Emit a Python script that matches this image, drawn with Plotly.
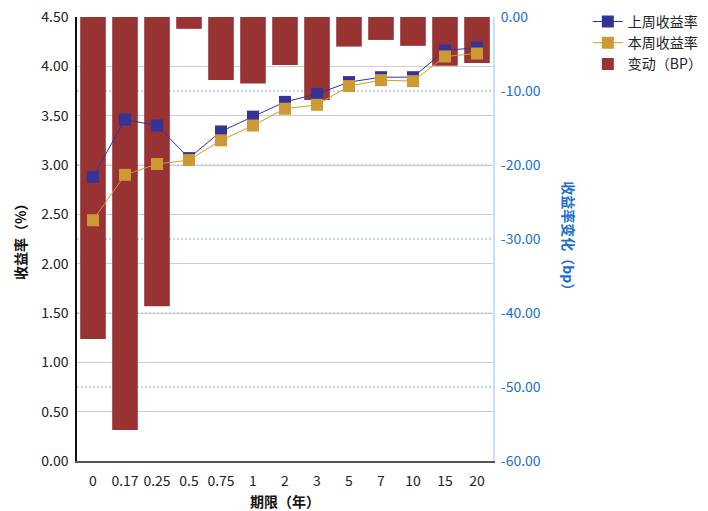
import plotly.graph_objects as go

categories = ["0", "0.17", "0.25", "0.5", "0.75", "1", "2", "3", "5", "7", "10", "15", "20"]
last_week = [2.88, 3.46, 3.40, 3.07, 3.34, 3.49, 3.64, 3.72, 3.84, 3.89, 3.89, 4.16, 4.19]
this_week = [2.44, 2.90, 3.01, 3.05, 3.25, 3.40, 3.57, 3.61, 3.80, 3.86, 3.85, 4.10, 4.13]
change_bp = [-43.5, -55.8, -39.1, -1.6, -8.5, -9.0, -6.5, -11.2, -4.0, -3.1, -3.9, -6.6, -6.2]

left_ticks = [0, 0.5, 1, 1.5, 2, 2.5, 3, 3.5, 4, 4.5]
right_ticks = [0, -10, -20, -30, -40, -50, -60]

FONT = "Noto Sans CJK SC"
BLUE_AX = "#1a6fd1"

fig = go.Figure()
fig.add_trace(go.Scatter(
    x=categories, y=last_week, yaxis="y2", name="上周收益率", mode="lines+markers",
    line=dict(color="#333399", width=1),
    marker=dict(symbol="square", size=12, color="#333399"),
))
fig.add_trace(go.Scatter(
    x=categories, y=this_week, yaxis="y2", name="本周收益率", mode="lines+markers",
    line=dict(color="#cc9933", width=1),
    marker=dict(symbol="square", size=12, color="#cc9933"),
))
fig.add_trace(go.Bar(
    x=categories, y=change_bp, yaxis="y", name="变动（BP）",
    marker=dict(color="#993333", line=dict(width=0)),
    width=0.8,
))

fig.update_layout(
    width=700, height=503,
    margin=dict(l=69, r=215, t=9, b=50, autoexpand=False),
    plot_bgcolor="white", paper_bgcolor="white",
    font=dict(family=FONT, size=14, color="#222"),
    showlegend=True,
    legend=dict(x=1.228, y=1.025, xanchor="left", yanchor="top",
                font=dict(size=14, color="#222"), tracegroupgap=0,
                traceorder="normal", itemwidth=30),
    xaxis=dict(
        type="category", categoryorder="array", categoryarray=categories,
        range=[-0.5, len(categories) - 0.5],
        showgrid=False, showline=True, linecolor="#555", linewidth=2,
        ticks="", tickangle=0, tickfont=dict(size=14, color="#222"),
        ticklabelstandoff=6, automargin=False,
    ),
    yaxis=dict(
        range=[-60, 0], tickvals=right_ticks,
        ticktext=["%.2f" % v for v in right_ticks],
        side="right",
        showgrid=True, gridcolor="#bcdaf7", griddash="2px,2px", gridwidth=1.5,
        showline=True, linecolor="#c6e0f8", linewidth=2,
        zeroline=False, ticks="", tickfont=dict(size=14, color=BLUE_AX),
        ticklabeloverflow="allow", ticklabelstandoff=3,
        automargin=False,
    ),
    yaxis2=dict(
        range=[0, 4.5], tickvals=left_ticks, tickformat=".2f",
        overlaying="y", side="left",
        showgrid=True, gridcolor="#cccccc", gridwidth=1,
        showline=True, linecolor="#111", linewidth=1.5,
        zeroline=False, ticks="", tickfont=dict(size=14, color="#222"),
        ticklabeloverflow="allow", ticklabelstandoff=4,
        automargin=False,
    ),
    annotations=[
        dict(text="<b>收益率变化（bp）</b>", textangle=90,
             xref="paper", yref="paper", x=1.182, y=0.5,
             xanchor="center", yanchor="middle", showarrow=False,
             font=dict(size=14, color=BLUE_AX, family=FONT)),
        dict(text="<b>收益率（%）</b>", textangle=-90,
             xref="paper", yref="paper", x=-0.137, y=0.5,
             xanchor="center", yanchor="middle", showarrow=False,
             font=dict(size=14, color="#111", family=FONT)),
        dict(text="<b>期限（年）</b>",
             xref="paper", yref="paper", x=0.5, y=-0.09,
             xanchor="center", yanchor="middle", showarrow=False,
             font=dict(size=14, color="#111", family=FONT)),
    ],
)

fig.write_html("out.html")
